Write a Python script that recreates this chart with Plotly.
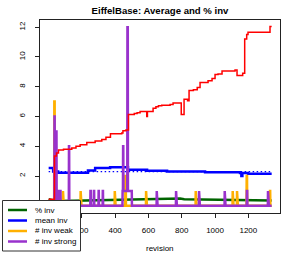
import numpy as np
import plotly.graph_objects as go

# ---------------- data ----------------
title = "EiffelBase: Average and % inv"
x_label = "revision"
legend_labels = ["% inv", "mean inv", "# inv weak", "# inv strong"]
first_rev, last_rev = 1, 1340
x_ticks = [0, 200, 400, 600, 800, 1000, 1200]
x_tick_text = ["", "200", "400", "600", "800", "1000", "1200"]  # "0" lies under the legend
y_ticks = [0, 2, 4, 6, 8, 10, 12]
y_tick_text = ["", "2", "4", "6", "8", "10", "12"]

# average (red), step change points
avg_rev = [1, 36, 48, 60, 90, 140, 165, 190, 230, 280, 320, 345, 372, 440, 447, 465,
           480, 515, 532, 550, 590, 594, 628, 645, 660, 680, 730, 748, 797, 814, 835,
           844, 870, 893, 910, 958, 982, 1000, 1018, 1042, 1120, 1132, 1166, 1178,
           1190, 1198, 1330, 1340]
avg_val = [0.45, 3.35, 3.55, 3.75, 3.8, 3.88, 4.0, 4.1, 4.25, 4.35, 4.45, 4.6, 4.85, 4.9,
           5.05, 5.1, 6.13, 6.2, 6.26, 6.33, 6.0, 6.33, 6.55, 6.65, 6.72, 6.75, 6.8, 6.9,
           6.13, 7.15, 7.05, 7.75, 7.8, 7.95, 8.28, 8.4, 8.55, 8.82, 8.85, 9.05, 9.12,
           8.75, 8.9, 11.2, 11.5, 11.65, 12.05, 12.05]

# mean inv (blue)
mean_rev = [1, 28, 58, 237, 280, 370, 477, 592, 712, 940, 1150, 1158, 1164, 1198, 1340]
mean_val = [2.55, 2.3, 2.23, 2.38, 2.54, 2.6, 2.42, 2.36, 2.31, 2.26, 2.2, 2.0, 2.2, 2.15, 2.15]
mean_overall = 2.3

# % inv (green)
pct_rev = [1, 40, 150, 300, 500, 700, 790, 815, 1000, 1200, 1340]
pct_val = [0.45, 0.33, 0.35, 0.38, 0.42, 0.44, 0.5, 0.44, 0.4, 0.36, 0.36]

# # inv weak (orange): revision ranges and heights
weak_start = [35, 87, 193, 398, 462, 586, 884, 1106, 1132, 1190, 1330]
weak_end = [37, 87, 193, 398, 464, 586, 884, 1106, 1132, 1192, 1331]
weak_height = [7, 1, 1, 1, 2, 1, 1, 1, 1, 2, 1]

# # inv strong (purple): revision ranges and heights
strong_start = [36, 40, 47, 50, 60, 123, 252, 273, 301, 326, 445, 448, 474, 650, 766, 904, 1058, 1191, 1318]
strong_end = [37, 44, 48, 56, 72, 124, 254, 274, 302, 327, 500, 449, 476, 650, 766, 904, 1058, 1193, 1318]
strong_height = [6, 3.3, 5, 1, 1, 4, 1, 1, 1, 1, 1, 4, 12, 1, 1, 1, 1, 1, 1]

# ---------------- build series ----------------
revs = np.arange(first_rev, last_rev + 1)


def spikes(starts, ends, heights):
    s = np.zeros(len(revs))
    for a, b, h in zip(starts, ends, heights):
        s[a - first_rev:b - first_rev + 1] = np.maximum(s[a - first_rev:b - first_rev + 1], h)
    return s


weak = spikes(weak_start, weak_end, weak_height)
strong = spikes(strong_start, strong_end, strong_height)

C_GREEN = "#006400"
C_BLUE = "#0000FF"
C_ORANGE = "#FFB000"
C_PURPLE = "#9932CC"
C_RED = "#FF0000"
FONT = "Liberation Sans, Arial, Helvetica, sans-serif"

W, H = 294, 254
ML, MR, MT, MB = 40, 14, 20, 41
PW, PH = W - ML - MR, H - MT - MB


def pxx(px):
    return (px - ML) / PW


def pxy(py):
    return (H - MB - py) / PH


fig = go.Figure()
fig.add_trace(go.Scatter(x=pct_rev, y=pct_val, mode="lines",
                         line=dict(color=C_GREEN, width=2.5)))
fig.add_trace(go.Scatter(x=mean_rev, y=mean_val, mode="lines",
                         line=dict(color=C_BLUE, width=2.5, shape="hv")))
fig.add_trace(go.Scatter(x=[first_rev, last_rev], y=[mean_overall, mean_overall], mode="lines",
                         line=dict(color=C_BLUE, width=1.3, dash="1.5px,2.5px")))
fig.add_trace(go.Scatter(x=revs, y=weak, mode="lines",
                         line=dict(color=C_ORANGE, width=2.5)))
fig.add_trace(go.Scatter(x=revs, y=strong, mode="lines",
                         line=dict(color=C_PURPLE, width=2.5)))
fig.add_trace(go.Scatter(x=avg_rev, y=avg_val, mode="lines",
                         line=dict(color=C_RED, width=1.5, shape="hv")))

axis_common = dict(showgrid=False, zeroline=False, showline=True, mirror=True,
                   linecolor="#222", linewidth=1, ticks="outside", ticklen=4,
                   tickwidth=1, tickcolor="#222",
                   tickfont=dict(family=FONT, size=8, color="#000"))
fig.update_xaxes(range=[-51, 1390], tickvals=x_ticks, ticktext=x_tick_text,
                 ticklabelstandoff=5, **axis_common)
fig.update_yaxes(range=[-0.48, 12.48], tickvals=y_ticks, ticktext=y_tick_text,
                 tickangle=-90, ticklabelstandoff=7, **axis_common)

shapes = [dict(type="rect", xref="paper", yref="paper", layer="above",
               x0=pxx(2.5), x1=pxx(80.5), y0=pxy(251), y1=pxy(200.5),
               fillcolor="white", line=dict(color="#333", width=1))]
annotations = []
leg_colors = [C_GREEN, C_BLUE, C_ORANGE, C_PURPLE]
leg_y = [210, 220.5, 231, 241.5]
for lab, col, yy in zip(legend_labels, leg_colors, leg_y):
    shapes.append(dict(type="line", xref="paper", yref="paper", layer="above",
                       x0=pxx(8), x1=pxx(27), y0=pxy(yy), y1=pxy(yy),
                       line=dict(color=col, width=2.5)))
    annotations.append(dict(text=lab, xref="paper", yref="paper", x=pxx(33), y=pxy(yy),
                            xanchor="left", yanchor="middle", showarrow=False,
                            font=dict(family=FONT, size=8, color="#000")))
annotations.append(dict(text=x_label, xref="paper", yref="paper", x=0.5, y=pxy(248.5),
                        xanchor="center", yanchor="middle", showarrow=False,
                        font=dict(family=FONT, size=8, color="#000")))

fig.update_layout(
    width=W, height=H,
    margin=dict(l=ML, r=MR, t=MT, b=MB, pad=0),
    paper_bgcolor="white", plot_bgcolor="white",
    showlegend=False,
    title=dict(text=title, x=(ML + PW / 2) / W, xanchor="center",
               y=1 - 10.5 / H, yanchor="middle", xref="container", yref="container",
               font=dict(family=FONT, size=9.6, color="#000", weight="bold")),
    shapes=shapes, annotations=annotations,
)

fig.write_html("out.html", config={"displayModeBar": False},
               post_script="document.body.style.margin='0px';document.body.style.padding='0px';")
